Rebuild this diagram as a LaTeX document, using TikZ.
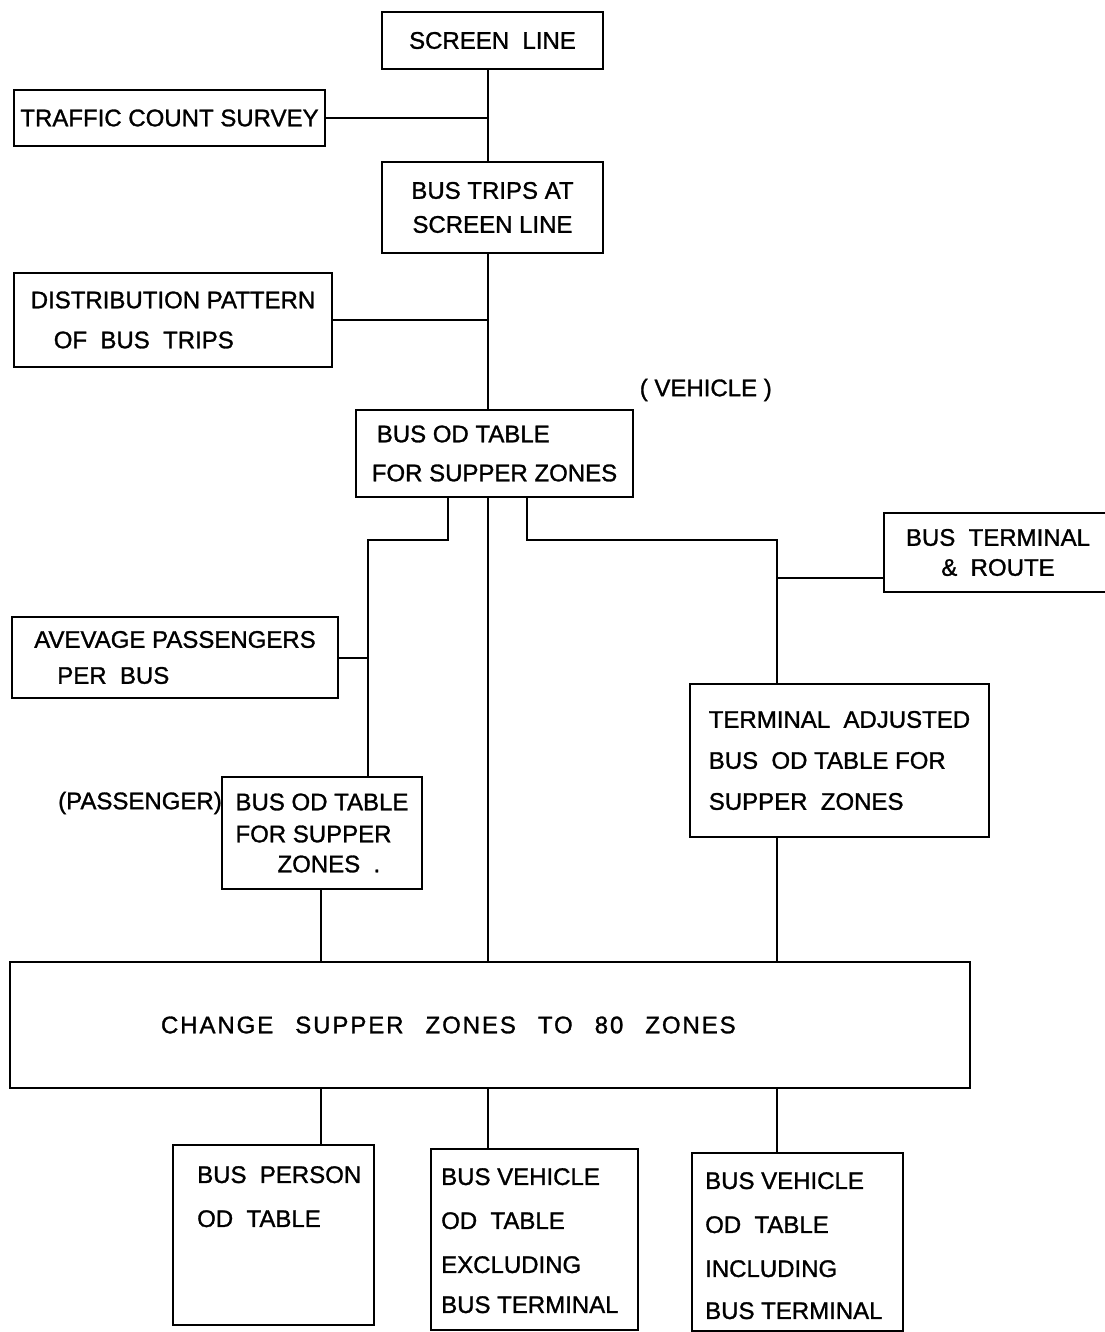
\documentclass[tikz,border=0pt]{standalone}
\usepackage{fontspec}
\setmainfont{Liberation Sans}[FakeBold=1.2]
\usepackage{tikz}

\begin{document}
\begin{tikzpicture}[x=1pt,y=-1pt,font=\fontsize{24}{30}\selectfont,
    stage/.style={draw,line width=2pt,inner sep=0pt,align=left},
    link/.style={line width=2pt}]
        \useasboundingbox (0,0) rectangle (1104,1332);
        % branch points of the connectors
        \coordinate (colA) at (321,0);
        \coordinate (spine) at (488,0);
        \coordinate (odvl) at (448,0);
        \coordinate (odvr) at (527,0);
        \coordinate (pasl) at (368,540);
        \coordinate (rgt) at (777,540);
        \coordinate (brk) at (777,578);
        % main column
        \node[stage,minimum width=221pt,minimum height=57pt] (scr) at (492.5,40.5) {SCREEN~ LINE};
        \node[stage,minimum width=221pt,minimum height=91pt,align=center] (bst) at (492.5,207.5) {BUS TRIPS AT\\[4pt]SCREEN LINE};
        \node[stage,minimum width=277pt,minimum height=87pt] (odv) at (494.5,453.5) {\hspace*{5pt}BUS OD TABLE\\[9pt]FOR SUPPER ZONES};
        \node[left,inner sep=0pt] (veh) at (772,390) {( VEHICLE )};
        % inputs on the left
        \node[stage,minimum width=311pt,minimum height=56pt] (tcs) at (169.5,118) {TRAFFIC COUNT SURVEY};
        \node[stage,minimum width=318pt,minimum height=94pt] (dpt) at (173,320) {DISTRIBUTION PATTERN\\[10pt]\hspace*{23pt}OF~ BUS~ TRIPS};
        \node[stage,minimum width=326pt,minimum height=81pt] (avp) at (175,657.5) {AVEVAGE PASSENGERS\\[6pt]\hspace*{23pt}PER~ BUS};
        \node[stage,minimum width=228pt,minimum height=79pt,align=center] (btr) at (998,552.5) {BUS~ TERMINAL\\\&~ ROUTE};
        % the two od tables
        \node[stage,minimum width=200pt,minimum height=112pt] (odp) at (322,833) {BUS OD TABLE\\[2pt]FOR SUPPER\\[0pt]\hspace*{42pt}ZONES~ .};
        \node[left,inner sep=0pt] (pas) at (222,803) {(PASSENGER)};
        \node[stage,minimum width=299pt,minimum height=153pt] (tab) at (839.5,760.5) {TERMINAL~ ADJUSTED\\[11pt]BUS~ OD TABLE FOR\\[11pt]SUPPER~ ZONES};
        \node[stage,minimum height=126pt,text width=658pt,inner xsep=151pt] (chg) at (490,1025) {\addfontfeature{LetterSpace=8}CHANGE\hspace{22pt}SUPPER\hspace{22pt}ZONES\hspace{22pt}TO\hspace{22pt}80\hspace{22pt}ZONES};
        % outputs
        \node[stage,minimum width=201pt,minimum height=180pt] (per) at (273.5,1235) {};
        \node[stage,minimum width=207pt,minimum height=181pt] (exc) at (534.5,1239.5) {};
        \node[stage,minimum width=211pt,minimum height=178pt] (inc) at (797.5,1242) {};
        \node[anchor=north west,align=left,inner sep=0pt] (per-l) at (197,1166) {BUS~ PERSON\\[14pt]OD~ TABLE};
        \node[anchor=north west,align=left,inner sep=0pt] (exc-l) at (441,1168) {BUS VEHICLE\\[14pt]OD~ TABLE\\[14pt]EXCLUDING\\[10pt]BUS TERMINAL};
        \node[anchor=north west,align=left,inner sep=0pt] (inc-l) at (705,1172) {BUS VEHICLE\\[14pt]OD~ TABLE\\[14pt]INCLUDING\\[12pt]BUS TERMINAL};
        % connectors
        \draw[link] (scr.south -| spine) -- (bst.north -| spine);
        \draw[link] (tcs.east) -- (tcs.east -| spine);
        \draw[link] (bst.south -| spine) -- (odv.north -| spine);
        \draw[link] (dpt.east) -- (dpt.east -| spine);
        \draw[link] (odv.south -| odvl) |- (pasl) -- (pasl |- odp.north);
        \draw[link] (avp.east) -- (avp.east -| pasl);
        \draw[link] (odv.south -| spine) -- (chg.north -| spine);
        \draw[link] (odv.south -| odvr) |- (rgt) -- (rgt |- tab.north);
        \draw[link] (btr.west |- brk) -- (brk);
        \draw[link] (odp.south -| colA) -- (colA |- chg.north);
        \draw[link] (tab.south -| rgt) -- (rgt |- chg.north);
        \foreach \c/\b in {colA/per,spine/exc,rgt/inc}{\draw[link] (chg.south -| \c) -- (\c |- \b.north);}
      \end{tikzpicture}
\end{document}
